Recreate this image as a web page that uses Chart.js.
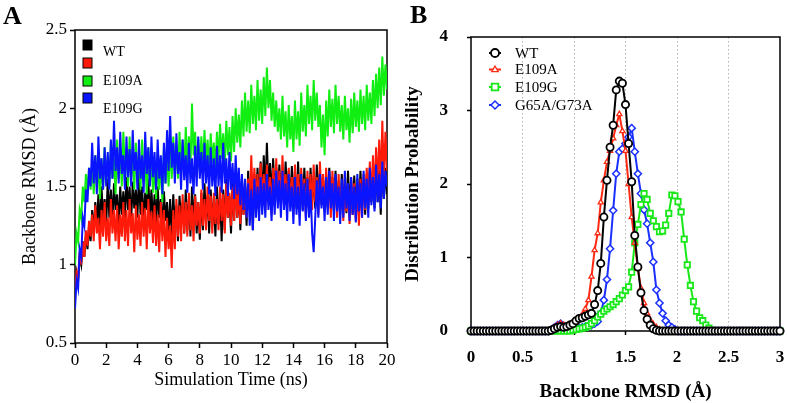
<!DOCTYPE html>
<html>
<head>
<meta charset="utf-8">
<script src="https://cdn.jsdelivr.net/npm/chart.js@4/dist/chart.umd.min.js"></script>
<style>
  html, body { margin: 0; padding: 0; background: #fff; overflow: hidden; }
  #wrap { position: relative; width: 787px; height: 403px; background: #fff; }
  #cA { position: absolute; left: 0; top: 0; }
  #cB { position: absolute; left: 400px; top: 0; }
</style>
</head>
<body>
<div id="wrap">
  <canvas id="cA" width="400" height="403"></canvas>
  <canvas id="cB" width="387" height="403"></canvas>
</div>
<script>
// ---------------- Panel A data (Backbone RMSD vs time, sampled every 0.1 ns) ----------------
const TIME_STEP_NS = 0.1;
const timeTicksA = [0, 2, 4, 6, 8, 10, 12, 14, 16, 18, 20];
const rmsdTicksA = [0.5, 1, 1.5, 2, 2.5];
const legendLabelsA = ['WT', '', 'E109A', 'E109G'];

const wtA = [0.80,0.95,0.90,1.05,1.00,1.15,1.05,1.20,1.10,1.25,1.15,
1.35,1.20,1.40,1.25,1.45,1.22,1.50,1.30,1.42,1.25,
1.55,1.30,1.48,1.28,1.52,1.35,1.45,1.25,1.50,1.32,
1.47,1.30,1.56,1.35,1.50,1.28,1.53,1.36,1.48,1.30,
1.58,1.32,1.50,1.28,1.46,1.35,1.55,1.30,1.48,1.27,
1.45,1.25,1.50,1.30,1.42,1.22,1.47,1.28,1.40,1.20,
1.42,1.18,1.45,1.25,1.38,1.15,1.44,1.28,1.40,1.20,
1.48,1.22,1.42,1.18,1.50,1.26,1.45,1.20,1.40,1.16,
1.46,1.22,1.52,1.28,1.44,1.20,1.48,1.25,1.42,1.18,
1.50,1.26,1.45,1.15,1.48,1.22,1.55,1.30,1.44,1.20,
1.52,1.28,1.58,1.30,1.48,1.22,1.54,1.32,1.50,1.25,
1.60,1.35,1.55,1.22,1.58,1.38,1.62,1.40,1.66,1.42,
1.70,1.45,1.78,1.48,1.65,1.42,1.68,1.45,1.62,1.40,
1.64,1.42,1.58,1.38,1.66,1.44,1.60,1.40,1.63,1.38,
1.60,1.36,1.66,1.42,1.58,1.35,1.62,1.40,1.56,1.34,
1.62,1.40,1.57,1.36,1.64,1.42,1.60,1.38,1.55,1.35,
1.58,1.36,1.62,1.40,1.56,1.34,1.60,1.38,1.54,1.32,
1.58,1.35,1.55,1.33,1.60,1.38,1.54,1.32,1.57,1.36,
1.55,1.34,1.60,1.38,1.52,1.32,1.58,1.36,1.62,1.40,
1.58,1.36,1.64,1.40,1.60,1.32,1.66,1.42,1.62,1.45];

const redA = [0.85,0.95,0.92,1.08,1.00,1.15,1.05,1.22,1.12,1.28,1.18,
1.32,1.15,1.38,1.20,1.30,1.10,1.35,1.18,1.40,1.15,
1.30,1.12,1.42,1.20,1.35,1.15,1.38,1.10,1.32,1.18,
1.40,1.15,1.35,1.12,1.42,1.20,1.33,1.08,1.38,1.16,
1.32,1.12,1.40,1.18,1.36,1.10,1.42,1.20,1.34,1.14,
1.38,1.12,1.32,1.08,1.40,1.15,1.35,1.05,1.30,1.10,
1.25,0.98,1.35,1.10,1.42,1.18,1.38,1.15,1.45,1.20,
1.40,1.18,1.46,1.22,1.38,1.15,1.44,1.25,1.40,1.20,
1.48,1.25,1.42,1.22,1.50,1.28,1.44,1.20,1.46,1.26,
1.42,1.22,1.50,1.28,1.45,1.20,1.52,1.30,1.46,1.25,
1.50,1.28,1.54,1.30,1.48,1.26,1.55,1.32,1.50,1.30,
1.55,1.38,1.70,1.42,1.62,1.40,1.58,1.36,1.65,1.40,
1.58,1.35,1.64,1.40,1.56,1.32,1.62,1.38,1.68,1.42,
1.60,1.36,1.70,1.45,1.58,1.35,1.62,1.38,1.56,1.32,
1.64,1.40,1.58,1.34,1.62,1.38,1.55,1.30,1.60,1.36,
1.58,1.35,1.64,1.40,1.56,1.32,1.66,1.42,1.58,1.34,
1.62,1.38,1.55,1.30,1.60,1.36,1.54,1.30,1.58,1.34,
1.52,1.28,1.58,1.34,1.50,1.26,1.56,1.32,1.52,1.28,
1.50,1.25,1.55,1.30,1.58,1.35,1.62,1.40,1.66,1.42,
1.70,1.45,1.75,1.50,1.80,1.52,1.92,1.55,1.85,1.60];

const e109aA = [1.00,1.20,1.15,1.35,1.30,1.50,1.40,1.58,1.45,1.62,1.48,
1.65,1.45,1.70,1.50,1.62,1.42,1.68,1.48,1.75,1.52,
1.70,1.50,1.78,1.55,1.68,1.45,1.80,1.55,1.72,1.50,
1.85,1.58,1.75,1.50,1.82,1.56,1.70,1.48,1.78,1.55,
1.72,1.48,1.80,1.55,1.68,1.45,1.75,1.50,1.70,1.46,
1.65,1.42,1.72,1.48,1.68,1.40,1.75,1.52,1.70,1.50,
1.78,1.55,1.82,1.58,1.75,1.55,1.85,1.60,1.80,1.58,
1.88,1.62,1.82,1.60,2.03,1.70,1.85,1.62,1.80,1.60,
1.82,1.62,1.86,1.64,1.80,1.60,1.84,1.65,1.78,1.60,
1.85,1.66,1.90,1.68,1.84,1.64,1.92,1.70,1.88,1.66,
1.95,1.72,2.00,1.78,1.96,1.75,2.05,1.82,2.10,1.85,
2.05,1.84,2.15,1.90,2.08,1.86,2.18,1.92,2.12,1.90,
2.20,1.95,2.26,2.00,2.18,1.92,2.10,1.88,2.05,1.85,
2.00,1.80,2.08,1.82,1.98,1.75,2.02,1.80,1.95,1.72,
2.05,1.80,1.98,1.76,2.10,1.85,2.02,1.82,2.15,1.90,
2.08,1.86,2.18,1.92,2.10,1.88,2.02,1.75,1.96,1.70,
2.05,1.82,2.12,1.88,2.06,1.84,2.15,1.90,2.08,1.85,
2.02,1.80,2.08,1.86,2.00,1.78,2.06,1.84,2.10,1.88,
2.05,1.85,2.12,1.90,2.08,1.86,2.15,1.92,2.10,1.90,
2.18,1.95,2.22,2.00,2.26,2.02,2.33,2.08,2.28,2.12];

const e109gA = [0.72,0.90,0.85,1.10,1.05,1.30,1.25,1.48,1.40,1.62,1.50,
1.78,1.52,1.70,1.45,1.82,1.55,1.68,1.48,1.75,1.50,
1.72,1.48,1.80,1.55,1.92,1.60,1.75,1.52,1.85,1.58,
1.70,1.48,1.82,1.56,1.74,1.50,1.86,1.60,1.72,1.48,
1.80,1.55,1.70,1.46,1.85,1.58,1.75,1.50,1.82,1.56,
1.72,1.48,1.80,1.55,1.70,1.45,1.78,1.52,1.86,1.60,
1.95,1.62,1.78,1.52,1.84,1.58,1.72,1.48,1.80,1.54,
1.70,1.46,1.78,1.52,1.68,1.45,1.76,1.50,1.82,1.55,
1.72,1.48,1.78,1.52,1.70,1.45,1.75,1.50,1.68,1.44,
1.76,1.50,1.70,1.46,1.78,1.52,1.68,1.44,1.72,1.48,
1.65,1.42,1.70,1.45,1.62,1.38,1.58,1.35,1.55,1.30,
1.52,1.25,1.48,1.22,1.55,1.30,1.50,1.28,1.56,1.32,
1.52,1.30,1.58,1.35,1.50,1.28,1.55,1.32,1.60,1.36,
1.54,1.30,1.60,1.35,1.52,1.28,1.58,1.34,1.50,1.26,
1.56,1.32,1.50,1.25,1.58,1.34,1.52,1.28,1.55,1.30,
1.48,1.20,1.08,1.30,1.54,1.30,1.58,1.36,1.50,1.28,
1.56,1.32,1.60,1.36,1.52,1.28,1.58,1.34,1.50,1.26,
1.55,1.30,1.60,1.36,1.52,1.28,1.56,1.32,1.50,1.27,
1.58,1.34,1.52,1.30,1.60,1.36,1.55,1.30,1.62,1.38,
1.56,1.34,1.64,1.40,1.58,1.36,1.66,1.42,1.60,1.50];

// ---------------- Panel B data (distribution of backbone RMSD, bins of 0.03 Å from 0 to 3) ----------------
const BIN_WIDTH = 0.03;
const rmsdTicksB = [0, 0.5, 1, 1.5, 2, 2.5, 3];
const probTicksB = [0, 1, 2, 3, 4];
const legendLabelsB = ['WT', 'E109A', 'E109G', 'G65A/G73A'];

const wtB = [0,0,0,0,0,0,0,0,0,0, 0,0,0,0,0,0,0,0,0,0, 0,0,0,0,0,
0.00,0.01,0.03,0.05,0.06,0.05,0.06,0.08,0.10,0.14,
0.17,0.18,0.20,0.22,0.24,0.36,0.55,0.92,1.55,2.05,
2.50,2.80,3.28,3.40,3.37,3.08,2.55,2.03,1.30,0.87,
0.52,0.28,0.16,0.08,0.03,0.01,0.00,
0,0,0,0,0,0,0,0,0,0, 0,0,0,0,0,0,0,0,0,0, 0,0,0,0,0,0,0,0,0,0, 0,0,0,0,0,0,0,0,0];

const e109aB = [0,0,0,0,0,0,0,0,0,0, 0,0,0,0,0,0,0,0,0,0, 0,0,0,0,
0.00,0.01,0.02,0.05,0.08,0.10,0.08,0.07,0.08,0.10,
0.14,0.18,0.22,0.30,0.42,0.74,1.10,1.33,1.75,2.05,
2.30,2.45,2.62,2.80,2.95,2.72,2.45,2.00,1.55,1.20,
0.85,0.58,0.38,0.24,0.15,0.09,0.05,0.02,0.00,
0,0,0,0,0,0,0,0,0,0, 0,0,0,0,0,0,0,0,0,0, 0,0,0,0,0,0,0,0,0,0, 0,0,0,0,0,0,0,0];

const e109gB = [0,0,0,0,0,0,0,0,0,0, 0,0,0,0,0,0,0,0,0,0, 0,0,0,0,0,0,0,0,0,0, 0,0,
0.00,0.01,0.02,0.03,0.04,0.05,0.07,0.10,0.14,0.19,
0.23,0.27,0.30,0.33,0.36,0.40,0.44,0.49,0.55,0.60,
0.80,1.20,1.45,1.72,1.87,1.79,1.60,1.50,1.42,1.35,
1.36,1.44,1.60,1.85,1.84,1.76,1.62,1.25,0.90,0.62,
0.40,0.27,0.18,0.14,0.08,0.04,0.01,0.00,
0,0,0,0,0,0,0,0,0,0, 0,0,0,0,0,0,0,0,0,0, 0];

const g65aB = [0,0,0,0,0,0,0,0,0,0, 0,0,0,0,0,0,0,0,0,0, 0,0,0,0,0,
0.00,0.02,0.05,0.08,0.10,0.07,0.05,0.04,0.04,0.04,
0.04,0.05,0.06,0.07,0.08,0.10,0.13,0.24,0.42,0.70,
1.12,1.64,2.14,2.44,2.48,2.55,2.64,2.76,2.44,2.14,
1.87,1.65,1.46,1.20,0.94,0.56,0.38,0.24,0.14,0.08,
0.05,0.02,0.00,
0,0,0,0,0,0,0,0,0,0, 0,0,0,0,0,0,0,0,0,0, 0,0,0,0,0,0,0,0,0,0, 0,0,0];

// ---------------- helpers ----------------
const SERIF = '"Liberation Serif", "Times New Roman", Times, serif';
Chart.defaults.font.family = SERIF;
Chart.defaults.color = '#000';

const timeA = wtA.map((_, i) => +(i * TIME_STEP_NS).toFixed(2));
const binsB = wtB.map((_, i) => +(i * BIN_WIDTH).toFixed(2));
const pts = (xs, ys) => ys.map((y, i) => ({ x: xs[i], y }));
const fixedTicks = arr => scale => { scale.ticks = arr.map(v => ({ value: v })); };
const plainLabel = v => String(v);
const fitX = h => s => { s.height = h; s.paddingLeft = 0; s.paddingRight = 0; };
const fitY = w => s => { s.width = w; s.paddingTop = 0; s.paddingBottom = 0; };

function decoPlugin(panelLabel, lx, ly, drawLegend) {
  return {
    id: 'deco',
    beforeDatasetsDraw(chart) {
      const { ctx, chartArea: a } = chart;
      ctx.save();
      ctx.strokeStyle = '#000';
      ctx.lineWidth = 1.5;
      ctx.strokeRect(a.left, a.top, a.right - a.left, a.bottom - a.top);
      ctx.restore();
    },
    afterDraw(chart) {
      const ctx = chart.ctx;
      ctx.save();
      ctx.fillStyle = '#000';
      ctx.font = 'bold 26px ' + SERIF;
      ctx.textBaseline = 'alphabetic';
      ctx.textAlign = 'left';
      ctx.fillText(panelLabel, lx, ly);
      drawLegend(ctx);
      ctx.restore();
    }
  };
}

function marker(ctx, style, x, y, r, color, lw) {
  ctx.save();
  ctx.strokeStyle = color; ctx.fillStyle = '#fff'; ctx.lineWidth = lw;
  ctx.beginPath();
  if (style === 'circle') {
    ctx.arc(x, y, r, 0, Math.PI * 2);
  } else if (style === 'triangle') {
    ctx.moveTo(x, y - r); ctx.lineTo(x + r * 0.95, y + r * 0.6); ctx.lineTo(x - r * 0.95, y + r * 0.6); ctx.closePath();
  } else if (style === 'rect') {
    ctx.rect(x - r * 0.8, y - r * 0.8, r * 1.6, r * 1.6);
  } else {
    ctx.moveTo(x, y - r); ctx.lineTo(x + r, y); ctx.lineTo(x, y + r); ctx.lineTo(x - r, y); ctx.closePath();
  }
  ctx.fill(); ctx.stroke();
  ctx.restore();
}

// ---------------- Panel A ----------------
const colorsA = ['#000000', '#ff1a0a', '#11ee11', '#0a14ff'];
const seriesA = [wtA, redA, e109aA, e109gA];

new Chart(document.getElementById('cA'), {
  type: 'line',
  data: {
    datasets: [3, 2, 1, 0].map(k => ({
      label: legendLabelsA[k] || 'series',
      data: pts(timeA, seriesA[k]),
      borderColor: colorsA[k],
      borderWidth: 2,
      pointRadius: 0,
      tension: 0
    }))
  },
  options: {
    responsive: false,
    animation: false,
    layout: { padding: { left: 19, right: 13, top: 30, bottom: 12 } },
    plugins: { legend: { display: false }, tooltip: { enabled: false } },
    scales: {
      x: {
        type: 'linear', min: 0, max: 20,
        afterBuildTicks: fixedTicks(timeTicksA),
        afterFit: fitX(48),
        grid: { drawOnChartArea: false, drawTicks: true, tickLength: 5, tickColor: '#000', tickWidth: 1.5 },
        border: { display: false },
        ticks: { font: { size: 17 }, padding: 2, maxRotation: 0, color: '#000', callback: plainLabel },
        title: { display: true, text: 'Simulation Time (ns)', font: { size: 18 }, padding: 0, color: '#000' }
      },
      y: {
        type: 'linear', min: 0.5, max: 2.5,
        afterBuildTicks: fixedTicks(rmsdTicksA),
        afterFit: fitY(56),
        grid: { drawOnChartArea: false, drawTicks: true, tickLength: 5, tickColor: '#000', tickWidth: 1.5 },
        border: { display: false },
        ticks: { font: { size: 17 }, padding: 3, color: '#000', callback: plainLabel },
        title: { display: true, text: 'Backbone RMSD (Å)', font: { size: 18 }, padding: 0, color: '#000' }
      }
    }
  },
  plugins: [decoPlugin('A', 3, 24, ctx => {
    const tops = [40, 58, 76, 93];
    const textY = [52, 70, 81, 109];
    ctx.font = '14px ' + SERIF;
    ctx.textBaseline = 'middle';
    for (let k = 0; k < 4; k++) {
      ctx.fillStyle = colorsA[k];
      ctx.fillRect(83, tops[k], 9, 10);
      ctx.strokeStyle = '#000'; ctx.lineWidth = 1;
      ctx.strokeRect(83, tops[k], 9, 10);
      if (legendLabelsA[k]) {
        ctx.fillStyle = '#000';
        ctx.fillText(legendLabelsA[k], 103, textY[k]);
      }
    }
  })]
});

// ---------------- Panel B ----------------
const colorsB = ['#000000', '#ff2a14', '#18e818', '#1a30ff'];
const stylesB = ['circle', 'triangle', 'rect', 'rectRot'];
const seriesB = [wtB, e109aB, e109gB, g65aB];
const radiiB = [3.6, 3.0, 3.8, 3.6];
const pbwB = [1.8, 1.3, 1.8, 1.5];

new Chart(document.getElementById('cB'), {
  type: 'line',
  data: {
    datasets: seriesB.map((s, k) => ({
      label: legendLabelsB[k],
      data: pts(binsB, s),
      borderColor: colorsB[k],
      borderWidth: 2,
      pointStyle: stylesB[k],
      pointRadius: radiiB[k],
      pointBorderWidth: pbwB[k],
      pointBorderColor: colorsB[k],
      pointBackgroundColor: '#ffffff',
      tension: 0,
      clip: false
    }))
  },
  options: {
    responsive: false,
    animation: false,
    layout: { padding: { left: 2, right: 7, top: 37, bottom: 0 } },
    plugins: { legend: { display: false }, tooltip: { enabled: false } },
    scales: {
      x: {
        type: 'linear', min: 0, max: 3,
        afterBuildTicks: fixedTicks(rmsdTicksB),
        afterFit: fitX(72),
        grid: {
          drawOnChartArea: true, drawTicks: true, tickLength: 4, tickColor: '#000', tickWidth: 1.5,
          color: c => (c.tick && (c.tick.value === 0 || c.tick.value === 3)) ? 'rgba(0,0,0,0)' : '#b4b4b4',
          lineWidth: 1
        },
        border: { display: false, dash: [1.5, 2.5] },
        ticks: { font: { size: 17, weight: 'bold' }, padding: 12, maxRotation: 0, color: '#000', callback: plainLabel },
        title: { display: true, text: 'Backbone RMSD (Å)', font: { size: 19, weight: 'bold' }, padding: 0, color: '#000' }
      },
      y: {
        type: 'linear', min: 0, max: 4,
        afterBuildTicks: fixedTicks(probTicksB),
        afterFit: fitY(69),
        grid: { drawOnChartArea: false, drawTicks: true, tickLength: 4, tickColor: '#000', tickWidth: 1.5 },
        border: { display: false },
        ticks: { font: { size: 17, weight: 'bold' }, padding: 19, color: '#000', callback: plainLabel },
        title: { display: true, text: 'Distribution Probability', font: { size: 19, weight: 'bold' }, padding: 0, color: '#000' }
      }
    }
  },
  plugins: [decoPlugin('B', 10, 23, ctx => {
    const ys = [53, 69.5, 87, 105];
    ctx.font = '15px ' + SERIF;
    ctx.textBaseline = 'middle';
    for (let k = 0; k < 4; k++) {
      ctx.strokeStyle = colorsB[k]; ctx.lineWidth = 2;
      ctx.beginPath(); ctx.moveTo(89, ys[k]); ctx.lineTo(101, ys[k]); ctx.stroke();
      marker(ctx, stylesB[k], 95, ys[k], radiiB[k] + 0.4, colorsB[k], pbwB[k]);
      ctx.fillStyle = '#000';
      ctx.fillText(legendLabelsB[k], 115, ys[k] + 1);
    }
  })]
});
</script>
</body>
</html>
